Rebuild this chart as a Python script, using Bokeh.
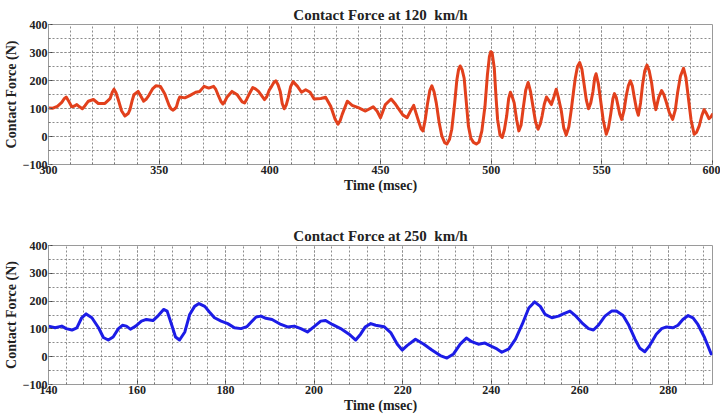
from bokeh.plotting import figure
from bokeh.layouts import column
from bokeh.models import SingleIntervalTicker, Range1d
from bokeh.embed import file_html
from bokeh.resources import INLINE

# Contact force trace at 120 km/h (time in ms, force in N)
t_120 = [300, 302, 304, 306, 307, 308, 309, 310.5, 311.5, 312.8, 314, 315.3, 316.5, 318,
         320.3, 322.5, 325.5, 327.8, 328.8, 329.6, 330.5, 331.5, 333, 334.5, 336, 336.8,
         337.8, 338.6, 340.5, 341.8, 343, 344.2, 345.5, 347, 348.5, 350.6, 352.5, 354.5,
         355.4, 356.3, 357.2, 357.8, 358.6, 359.3, 361.6, 363.8, 366.5, 368.3, 370.3, 372.4,
         374.6, 375.6, 376.6, 378, 378.8, 379.6, 380.6, 382.9, 385.3, 387.5, 388.6, 389.6,
         390.5, 392.3, 393.5, 394.9, 397.6, 398.6, 399.7, 400.8, 401.8, 402.7, 403.7, 404.7,
         405.6, 406.5, 407.4, 408.3, 409.4, 410.5, 412.5, 414.3, 416.2, 418.2, 420, 423,
         425.2, 427.5, 429.5, 430.8, 431.8, 432.7, 435, 437.2, 440.2, 443.2, 446.7, 448.5,
         450, 451, 452.2, 454.8, 456.5, 458.2, 460, 462, 463.5, 465, 466.2, 467.2, 468.3,
         469.2, 470.2, 471.3, 472.3, 473.2, 474.2, 475.2, 476.5, 477.7, 479, 480, 481.2,
         482.2, 483.4, 484.5, 485.3, 486, 486.9, 487.8, 488.8, 489.7, 490.8, 492, 493.3,
         494.5, 495.8, 497.2, 498.3, 499.2, 499.8, 500.4, 501.4, 502.2, 502.9, 504, 505,
         506, 507, 507.9, 508.7, 509.6, 510.4, 511.5, 512.5, 513.5, 514.4, 515.6, 516.7,
         517.8, 519, 520.1, 521.2, 522.2, 523, 524, 525, 526.1, 527.2, 528.3, 529.4, 530.5,
         531.7, 532.8, 533.9, 535.1, 536.2, 537.2, 538, 539, 540, 541, 541.9, 543, 544, 545,
         546, 546.8, 547.4, 548.4, 549.4, 550.6, 552, 553, 554, 555, 555.7, 556.5, 557.2,
         558.1, 559, 560, 561, 562, 562.9, 563.8, 564.7, 565.6, 566.5, 567.5, 568.4, 569.4,
         570.4, 571.4, 572.5, 573.5, 574.4, 575.7, 577, 578, 579, 580.5, 582, 583.2, 584.2,
         585.5, 586.9, 588, 589, 590.3, 591.7, 592.8, 594, 595.2, 596.2, 597.3, 598.4,
         599.3, 600]
f_120 = [102, 101, 108, 122, 134, 141, 128, 106, 108, 114, 106, 99, 110, 126,
         132, 118, 118, 135, 158, 169, 156, 132, 92, 73, 82, 96,
         128, 149, 161, 143, 126, 134, 149, 170, 181, 179, 153, 111,
         98, 94, 100, 106, 128, 141, 138, 146, 158, 161, 179, 173,
         179, 168, 149, 124, 116, 124, 140, 161, 149, 124, 120, 134,
         149, 175, 170, 161, 132, 142, 165, 179, 193, 199, 185, 161,
         118, 99, 112, 138, 178, 196, 179, 158, 167, 158, 134, 136,
         140, 108, 62, 44, 57, 79, 126, 111, 102, 91, 106, 90,
         67, 88, 114, 134, 118, 99, 78, 67, 90, 111, 80, 55, 28,
         20, 60, 120, 165, 181, 160, 120, 50, 2, -22, -27, -10,
         26, 110, 202, 240, 252, 238, 208, 120, 38, -5, -21, -27,
         -20, 20, 108, 220, 285, 303, 300, 245, 140, 61, 5, -3,
         25, 73, 135, 158, 140, 120, 60, 20, 40, 96, 165, 193,
         160, 102, 50, 26, 45, 73, 115, 141, 128, 114, 140, 169, 135,
         91, 30, 5, 35, 96, 160, 208, 250, 264, 240, 191, 130, 99, 120,
         161, 210, 224, 190, 132, 60, 8, 30, 79, 135, 153, 140, 114,
         80, 61, 92, 144, 182, 199, 180, 138, 100, 76, 120, 185, 235,
         255, 235, 191, 130, 96, 140, 164, 150, 126, 85, 61, 95, 155,
         215, 244, 210, 144, 60, 8, 15, 38, 75, 96, 82, 64,
         70, 79]

# Contact force trace at 250 km/h
t_250 = [140, 141.5, 143, 144, 145.3, 146.4, 147.5, 148.5, 149.8, 151.3, 152.4, 153.5, 154.6,
         155.8, 156.7, 157.6, 158.5, 159.7, 161, 162.1, 163.6, 164.8, 166, 166.8, 167.8,
         168.7, 169.6, 170.8, 171.9, 173, 174, 175.3, 176.4, 177.5, 179, 180.5, 182, 183.5,
         184.8, 185.8, 186.9, 188, 189.1, 190.5, 192.5, 194, 195.5, 197, 198.5, 200, 201.5,
         202.6, 204.1, 206, 207.9, 209.4, 210.5, 211.6, 212.8, 213.9, 215.8, 217.3, 218.8,
         219.9, 221, 222.9, 224.8, 226.6, 228.5, 230, 231.5, 233, 234.4, 235.6, 237.1, 238.6,
         240.1, 241.3, 242.4, 244, 245.5, 247, 248.5, 249.8, 251.1, 252.2, 253.7, 255.2,
         256.3, 257.8, 259, 260.5, 262, 263.1, 264.2, 265.7, 267.2, 268.3, 269.8, 271, 272.5,
         273.6, 274.7, 275.8, 277.3, 278.5, 279.6, 281.1, 282.2, 283.3, 284.5, 285.6, 286.7,
         288.2, 289.7]
f_250 = [110, 104, 110, 101, 96, 104, 140, 154, 140, 104, 69, 60, 71,
         101, 113, 110, 99, 110, 128, 134, 130, 148, 170, 164, 116,
         71, 60, 89, 152, 181, 191, 181, 160, 140, 128, 119, 104, 101,
         108, 125, 143, 146, 138, 134, 116, 107, 110, 101, 89, 108, 128,
         130, 116, 101, 81, 60, 81, 108, 119, 113, 108, 87, 45,
         24, 40, 63, 45, 24, 4, -5, 10, 45, 67, 54, 45, 49,
         37, 28, 16, 28, 63, 116, 175, 197, 181, 152, 140, 146,
         154, 164, 148, 122, 101, 96, 113, 146, 164, 164, 148, 116, 63,
         30, 18, 40, 81, 101, 107, 104, 113, 134, 148, 140, 116,
         69, 10]

FONT = "Liberation Serif"


def make_panel(title, t, f, x_range, x_step, color, height, top, bottom):
    p = figure(width=720, height=height, output_backend="svg", toolbar_location=None,
               x_range=Range1d(*x_range), y_range=Range1d(-100, 400),
               min_border_left=45, min_border_right=8,
               min_border_top=top, min_border_bottom=bottom,
               background_fill_color="white", border_fill_color="white")
    p.title.text = title
    p.title.align = "center"
    p.title.text_font = FONT
    p.title.text_font_size = "15px"
    p.title.text_font_style = "bold"
    p.title.standoff = 4
    p.title.text_color = "#222222"

    p.outline_line_color = "#9a9a9a"
    p.outline_line_width = 1

    p.xaxis.ticker = SingleIntervalTicker(interval=x_step, num_minor_ticks=5)
    p.yaxis.ticker = SingleIntervalTicker(interval=100, num_minor_ticks=2)
    for ax in (p.xaxis[0], p.yaxis[0]):
        ax.axis_line_color = "#9a9a9a"
        ax.major_tick_in = 4
        ax.major_tick_out = 0
        ax.minor_tick_in = 2
        ax.minor_tick_out = 0
        ax.major_tick_line_color = "#444444"
        ax.minor_tick_line_color = "#777777"
        ax.major_label_text_font = FONT
        ax.major_label_text_font_size = "12px"
        ax.major_label_text_font_style = "bold"
        ax.major_label_text_color = "#222222"
        ax.major_label_standoff = 1
        ax.axis_label_text_font = FONT
        ax.axis_label_text_font_size = "14px"
        ax.axis_label_text_font_style = "bold"
        ax.axis_label_text_color = "#222222"
        ax.axis_label_standoff = 1
    p.xaxis.axis_label = "Time (msec)"
    p.yaxis.axis_label = "Contact Force (N)"

    for g in (p.xgrid[0], p.ygrid[0]):
        g.grid_line_color = "#8c8c8c"
        g.grid_line_dash = "2 2"
        g.grid_line_width = 1
        g.minor_grid_line_color = "#8c8c8c"
        g.minor_grid_line_dash = "2 2"
        g.minor_grid_line_width = 1

    p.line(t, f, line_color=color, line_width=3, line_join="round", line_cap="round")
    return p


top_panel = make_panel("Contact Force at 120\u00a0 km/h", t_120, f_120, (300, 600), 50,
                       "#e2401c", 205, 24, 41)
bottom_panel = make_panel("Contact Force at 250\u00a0 km/h", t_250, f_250, (140, 290), 20,
                          "#1c1ce6", 210, 40, 29)

layout = column(top_panel, bottom_panel, spacing=0)
open("out.html", "w").write(file_html(layout, INLINE))
